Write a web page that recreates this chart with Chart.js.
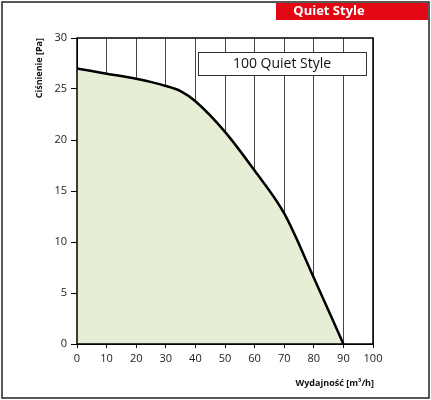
<!DOCTYPE html><html><head><meta charset="utf-8"><style>html,body{margin:0;padding:0;background:#fff}#w{width:431px;height:400px;position:relative}</style>
<script src="https://cdn.jsdelivr.net/npm/chart.js@4"></script></head><body><div id="w"><canvas id="c"></canvas></div>
<script>
const flowValues=[0,10,20,30,35,40,50,60,70,80,90];
const pressureValues=[27,26.5,26,25.3,24.8,23.8,20.8,17,12.8,6.5,0];
const seriesLabel="100 Quiet Style";
const xTitle="Wydajność [m³/h]";
const yTitle="Ciśnienie [Pa]";
const banner="Quiet Style";
const deco={id:'deco',beforeDraw(ch){const c=ch.ctx;c.save();c.fillStyle='#fff';c.fillRect(0,0,431,400);
c.strokeStyle='#222';c.lineWidth=1.5;c.strokeRect(2,2,427,396);
c.fillStyle='#e30613';c.fillRect(276,3,152,17);c.fillStyle='#fff';c.font='bold 13px "Open Sans"';c.textAlign='center';c.textBaseline='middle';c.fillText(banner,329,11);c.restore();},
afterDraw(ch){const c=ch.ctx,a=ch.chartArea;c.save();c.strokeStyle='#000';c.lineWidth=1.5;c.strokeRect(a.left,a.top,a.right-a.left,a.bottom-a.top);
c.fillStyle='#fff';c.fillRect(198,52,168,23);c.strokeStyle='#333';c.lineWidth=1;c.strokeRect(198.5,52.5,168,23);
c.fillStyle='#111';c.font='14px "Open Sans"';c.textAlign='center';c.textBaseline='middle';c.fillText(seriesLabel,282,64);
c.font='bold 9px "Open Sans"';c.textAlign='right';c.fillText(xTitle,374,383);
c.translate(39,38);c.rotate(-Math.PI/2);c.textAlign='right';c.fillText(yTitle,0,0);c.restore();}};
new Chart(document.getElementById('c'),{type:'line',data:{labels:flowValues,datasets:[{data:flowValues.map((x,i)=>({x,y:pressureValues[i]})),borderColor:'#000',borderWidth:2.5,fill:'origin',backgroundColor:'#e6efd6',pointRadius:0,cubicInterpolationMode:'monotone'}]},
options:{responsive:true,maintainAspectRatio:false,animation:false,layout:{padding:{left:10,top:38,right:58,bottom:26}},
plugins:{legend:{display:false},tooltip:{enabled:false}},
scales:{x:{type:'linear',min:0,max:100,afterFit(s){s.height=30;},ticks:{stepSize:10,color:'#222',font:{family:'Open Sans',size:11},padding:4},grid:{color:'#444',lineWidth:1,drawTicks:true,tickLength:4,tickColor:'#000'},border:{color:'#000'}},
y:{min:0,max:30,afterFit(s){s.width=67;},ticks:{stepSize:5,color:'#222',font:{family:'Open Sans',size:11},padding:4},grid:{display:true,drawOnChartArea:false,tickLength:6,tickColor:'#000'},border:{color:'#000'}}}},plugins:[deco]});
</script></body></html>
